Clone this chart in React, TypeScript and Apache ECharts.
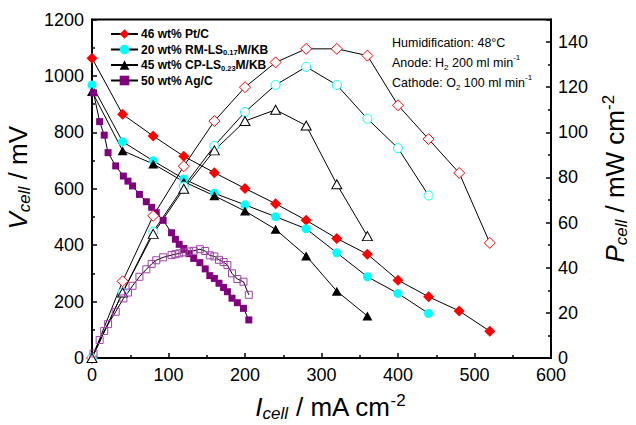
import React, { useEffect, useRef } from 'react';
import * as echarts from 'echarts';

const FONT = "'Liberation Sans', Arial, Helvetica, sans-serif";

// Current density (mA cm-2)
const ptI = [0, 40, 80, 120, 160, 200, 240, 280, 320, 360, 400, 440, 480, 520];
const ptV = [1063, 864, 787, 715, 657, 601, 547, 488, 424, 368, 276, 217, 167, 95];
const ptP = [0, 34, 63, 85, 105, 120, 131, 137, 137, 134, 112, 97, 82, 51];

const rmI = [0, 40, 80, 120, 160, 200, 240, 280, 320, 360, 400, 440];
const rmV = [968, 767, 699, 635, 584, 543, 501, 458, 373, 288, 229, 158];
const rmP = [0, 29, 56, 76, 94, 109, 121, 129, 121, 106, 93, 72];

const cpI = [0, 40, 80, 120, 160, 200, 240, 280, 320, 360];
const cpV = [945, 735, 688, 625, 575, 521, 456, 362, 237, 149];
const cpP = [0, 29, 55, 75, 92, 105, 110, 103, 77, 54];

const agI = [2, 10, 16, 21, 31, 41, 47, 53, 62, 71, 78, 84, 93, 104, 109, 114, 120, 127, 133, 141, 148, 154, 160, 166, 172, 177, 183, 190, 198, 205];
const agV = [940, 838, 790, 728, 681, 645, 627, 610, 580, 554, 534, 515, 488, 444, 421, 403, 388, 370, 353, 338, 316, 292, 282, 265, 250, 235, 212, 196, 176, 135];
const agP = [2, 8, 12, 15, 20.5, 26.4, 29, 32, 36, 39.3, 41.7, 43.3, 44.6, 45.6, 46, 46.4, 46.8, 47.2, 47.5, 48.2, 47.4, 45.5, 45, 43.5, 42.5, 41.2, 37.5, 35, 33.8, 28];

const seriesNames = ['46 wt% Pt/C', '20 wt% RM-LS0.17M/KB', '45 wt% CP-LS0.23M/KB', '50 wt% Ag/C'];
const legendLabels: Record<string, string> = {
  '46 wt% Pt/C': '46 wt% Pt/C',
  '20 wt% RM-LS0.17M/KB': '20 wt% RM-LS{sub|0.17}M/KB',
  '45 wt% CP-LS0.23M/KB': '45 wt% CP-LS{sub|0.23}M/KB',
  '50 wt% Ag/C': '50 wt% Ag/C',
};

const xTicks = { min: 0, max: 600, interval: 100 };
const vTicks = { min: 0, max: 1200, interval: 200 };
const pTicks = { min: 0, max: 150, interval: 20 };

const pairs = (xs: number[], ys: number[]) => xs.map((x, i) => [x, ys[i]]);

const RED = '#ff0000';
const CYAN = '#00ffff';
const BLACK = '#000000';
const PURPLE = '#800080';
const PURPLE_OPEN = '#a040a8';

function vSeries(name: string, xs: number[], ys: number[], symbol: string, size: any, color: string) {
  return {
    type: 'line',
    name,
    data: pairs(xs, ys),
    yAxisIndex: 0,
    symbol,
    symbolSize: size,
    showSymbol: true,
    silent: true,
    itemStyle: { color, borderColor: color, borderWidth: 0 },
    lineStyle: { color: '#000', width: 1 },
  };
}

function pSeries(name: string, xs: number[], ys: number[], symbol: string, size: any, color: string, fill: string) {
  return {
    type: 'line',
    name,
    data: pairs(xs, ys),
    yAxisIndex: 1,
    symbol,
    symbolSize: size,
    showSymbol: true,
    silent: true,
    itemStyle: { color: fill, borderColor: color, borderWidth: 1 },
    lineStyle: { color: '#000', width: 1 },
  };
}

const axisNameRich = (main: number, sub: number) => ({
  i: { fontSize: main, fontStyle: 'italic', fontFamily: FONT, color: '#000', lineHeight: 30 },
  is: { fontSize: sub, fontStyle: 'italic', fontFamily: FONT, color: '#000', verticalAlign: 'bottom', lineHeight: 10 },
  n: { fontSize: main, fontFamily: FONT, color: '#000', lineHeight: 30 },
  sp: { fontSize: sub, fontFamily: FONT, color: '#000', verticalAlign: 'top', lineHeight: 16 },
});

const plain = (v: number) => String(v);

export default function App() {
  const ref = useRef<HTMLDivElement>(null);

  useEffect(() => {
    if (!ref.current) return;
    const chart = echarts.init(ref.current, undefined, { renderer: 'svg' });

    const tickCommon = {
      axisLine: { show: true, onZero: false, lineStyle: { color: '#000', width: 2 } },
      axisTick: { show: true, inside: true, length: 5, lineStyle: { color: '#000', width: 1.5 } },
      minorTick: { show: true, splitNumber: 2, length: 3, lineStyle: { color: '#000', width: 1.5 } },
      splitLine: { show: false },
      minorSplitLine: { show: false },
    };

    const option: any = {
      animation: false,
      backgroundColor: '#fff',
      grid: {
        left: 92,
        right: 85,
        top: 19.5,
        bottom: 67,
        containLabel: false,
        outerBoundsMode: 'none',
        show: true,
        borderColor: '#000',
        borderWidth: 2,
        backgroundColor: 'transparent',
      },
      legend: {
        data: seriesNames,
        orient: 'vertical',
        left: 110,
        top: 27,
        padding: 0,
        itemWidth: 27,
        itemHeight: 12,
        itemGap: 1.5,
        selectedMode: false,
        formatter: (name: string) => legendLabels[name],
        textStyle: {
          fontFamily: FONT,
          fontSize: 12,
          fontWeight: 'bold',
          color: '#000',
          lineHeight: 14,
          padding: [0, 0, 0, -2],
          rich: {
            sub: { fontFamily: FONT, fontSize: 7.5, fontWeight: 'bold', color: '#000', verticalAlign: 'bottom', lineHeight: 6 },
          },
        },
      },
      xAxis: {
        type: 'value',
        ...xTicks,
        ...tickCommon,
        axisLabel: { fontSize: 18, color: '#000', fontFamily: FONT, margin: 8, formatter: plain },
        name: '{i|I}{is|cell}{n| / mA cm}{sp|-2}',
        nameLocation: 'middle',
        nameGap: 34,
        nameTextStyle: { padding: [0, 0, 0, 18], rich: axisNameRich(26, 17) },
      },
      yAxis: [
        {
          type: 'value',
          position: 'left',
          ...vTicks,
          ...tickCommon,
          axisLabel: { fontSize: 18, color: '#000', fontFamily: FONT, margin: 8, formatter: plain },
          name: '{i|V}{is|cell}{n| / mV}',
          nameLocation: 'middle',
          nameRotate: 90,
          nameGap: 44,
          nameTextStyle: { padding: [0, 0, 0, 22], rich: axisNameRich(26, 17) },
        },
        {
          type: 'value',
          position: 'right',
          ...pTicks,
          ...tickCommon,
          axisLabel: {
            fontSize: 18,
            color: '#000',
            fontFamily: FONT,
            margin: 7,
            formatter: (v: number) => (v % 20 === 0 ? String(v) : ''),
          },
          name: '{i|P}{is|cell}{n| / mW cm}{sp|-2}',
          nameLocation: 'middle',
          nameRotate: 90,
          nameGap: 49,
          nameTextStyle: { padding: [0, 0, 0, 20], rich: axisNameRich(26, 17) },
        },
      ],
      graphic: [
        {
          type: 'text',
          x: 392,
          y: 42.7,
          silent: true,
          style: {
            text: 'Humidification: 48°C',
            fontFamily: FONT,
            fontSize: 12.5,
            fill: '#000',
            verticalAlign: 'middle',
          },
        },
        {
          type: 'text',
          x: 392,
          y: 62.5,
          silent: true,
          style: {
            text: '{n|Anode: H}{sb|2}{n| 200 ml min}{sp|-1}',
            fontFamily: FONT,
            fontSize: 12.5,
            fill: '#000',
            verticalAlign: 'middle',
            rich: {
              n: { fontFamily: FONT, fontSize: 12.5, fill: '#000', lineHeight: 18 },
              sb: { fontFamily: FONT, fontSize: 8, fill: '#000', verticalAlign: 'bottom', lineHeight: 5 },
              sp: { fontFamily: FONT, fontSize: 8, fill: '#000', verticalAlign: 'top', lineHeight: 10 },
            },
          },
        },
        {
          type: 'text',
          x: 392,
          y: 82.5,
          silent: true,
          style: {
            text: '{n|Cathode: O}{sb|2}{n| 100 ml min}{sp|-1}',
            fontFamily: FONT,
            fontSize: 12.5,
            fill: '#000',
            verticalAlign: 'middle',
            rich: {
              n: { fontFamily: FONT, fontSize: 12.5, fill: '#000', lineHeight: 18 },
              sb: { fontFamily: FONT, fontSize: 8, fill: '#000', verticalAlign: 'bottom', lineHeight: 5 },
              sp: { fontFamily: FONT, fontSize: 8, fill: '#000', verticalAlign: 'top', lineHeight: 10 },
            },
          },
        },
      ],
      series: [
        vSeries(seriesNames[0], ptI, ptV, 'diamond', 11, RED),
        vSeries(seriesNames[1], rmI, rmV, 'circle', 9, CYAN),
        vSeries(seriesNames[2], cpI, cpV, 'triangle', [10, 9], BLACK),
        vSeries(seriesNames[3], agI, agV, 'rect', 7, PURPLE),
        pSeries('Pt/C power', ptI, ptP, 'diamond', 11, RED, '#ffffff'),
        pSeries('RM power', rmI, rmP, 'circle', 9, CYAN, '#ffffff'),
        pSeries('CP power', cpI, cpP, 'triangle', [10, 9], BLACK, '#ffffff'),
        pSeries('Ag/C power', agI, agP, 'rect', 7, PURPLE_OPEN, 'rgba(255,255,255,0)'),
      ],
    };

    chart.setOption(option);
    return () => chart.dispose();
  }, []);

  return <div ref={ref} style={{ width: 636, height: 425, position: 'absolute', left: 0, top: 0 }} />;
}
